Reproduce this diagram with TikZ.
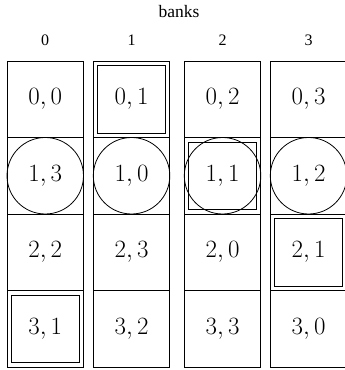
\documentclass[tikz,border=0pt]{standalone}
\usepackage{fontspec}
\newfontfamily\labelfont{Liberation Serif}
\begin{document}
\begin{tikzpicture}[x=1pt,y=1pt,
  cell/.style={draw, line width=0.8pt, minimum size=76.5pt, inner sep=0pt, font=\fontsize{24.5}{28}\selectfont},
  ring/.style={draw, circle, line width=0.8pt, minimum size=76.5pt, inner sep=0pt},
  innerbox/.style={draw, line width=0.8pt, minimum size=67.5pt, inner sep=0pt},
  collabel/.style={font=\labelfont\fontsize{16}{19}\selectfont},
  title/.style={font=\labelfont\fontsize{17.5}{21}\selectfont}]
\useasboundingbox (0,0) rectangle (345,370);
% column centers
\def\xa{45.25}\def\xb{131.55}\def\xc{222.55}\def\xd{308.55}
\def\ya{270.75}\def\yb{194.25}\def\yc{117.75}\def\yd{41.25}
\node[title] (banks) at (179,358) {banks};
\node[collabel] (l0) at (\xa,330) {0};
\node[collabel] (l1) at (\xb,330) {1};
\node[collabel] (l2) at (\xc,330) {2};
\node[collabel] (l3) at (\xd,330) {3};
% row 0
\node[cell] (c00) at (\xa,\ya) {$0,0$};
\node[cell] (c01) at (\xb,\ya) {$0,1$};
\node[cell] (c02) at (\xc,\ya) {$0,2$};
\node[cell] (c03) at (\xd,\ya) {$0,3$};
% row 1
\node[cell] (c10) at (\xa,\yb) {$1,3$};
\node[cell] (c11) at (\xb,\yb) {$1,0$};
\node[cell] (c12) at (\xc,\yb) {$1,1$};
\node[cell] (c13) at (\xd,\yb) {$1,2$};
% row 2
\node[cell] (c20) at (\xa,\yc) {$2,2$};
\node[cell] (c21) at (\xb,\yc) {$2,3$};
\node[cell] (c22) at (\xc,\yc) {$2,0$};
\node[cell] (c23) at (\xd,\yc) {$2,1$};
% row 3
\node[cell] (c30) at (\xa,\yd) {$3,1$};
\node[cell] (c31) at (\xb,\yd) {$3,2$};
\node[cell] (c32) at (\xc,\yd) {$3,3$};
\node[cell] (c33) at (\xd,\yd) {$3,0$};
% circles
\node[ring] (r10) at (c10.center) {};
\node[ring] (r11) at (c11.center) {};
\node[ring] (r12) at (c12.center) {};
\node[ring] (r13) at (c13.center) {};
% inner boxes
\node[innerbox] (b01) at (c01.center) {};
\node[innerbox] (b12) at (c12.center) {};
\node[innerbox] (b23) at (c23.center) {};
\node[innerbox] (b30) at (c30.center) {};
\end{tikzpicture}
\end{document}
